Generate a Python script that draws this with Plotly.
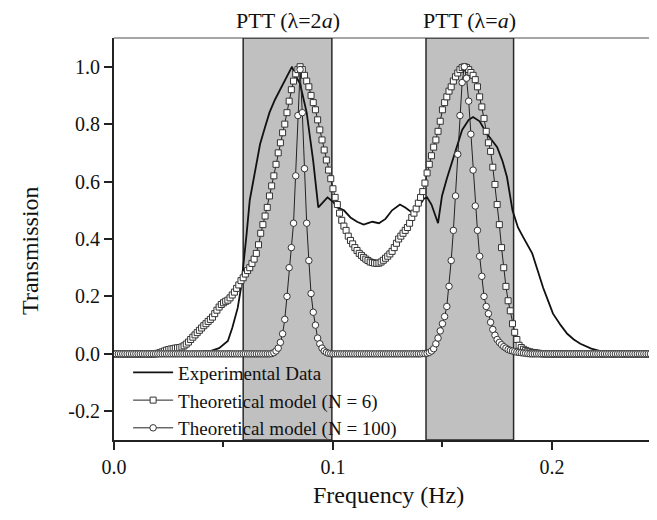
import numpy as np
import plotly.graph_objects as go

# ---- data -------------------------------------------------------------
# sampling grid of the theoretical models (Hz)
freq = np.round(np.arange(0, 0.2505, 0.001), 3)

n6 = [0.0] * 20 + [
    0.002, 0.004, 0.007, 0.010, 0.013, 0.015, 0.017, 0.018, 0.020, 0.021,
    0.022, 0.024, 0.028, 0.034, 0.041, 0.050, 0.058, 0.066, 0.074, 0.082,
    0.090, 0.098, 0.105, 0.113, 0.120, 0.128, 0.140, 0.152, 0.163, 0.172,
    0.178, 0.183, 0.187, 0.195, 0.205, 0.215, 0.228, 0.240, 0.255, 0.265,
    0.278, 0.290, 0.300, 0.315, 0.330, 0.350, 0.380, 0.420, 0.450, 0.480,
    0.510, 0.550, 0.585, 0.620, 0.660, 0.700, 0.735, 0.770, 0.800, 0.840,
    0.880, 0.920, 0.950, 0.975, 0.990, 1.000, 0.990, 0.970, 0.950, 0.930,
    0.900, 0.875, 0.850, 0.815, 0.780, 0.745, 0.710, 0.675, 0.640, 0.610,
    0.575, 0.545, 0.520, 0.490, 0.465, 0.445, 0.430, 0.410, 0.395, 0.383,
    0.370, 0.360, 0.350, 0.343, 0.336, 0.330, 0.325, 0.320, 0.318, 0.316,
    0.315, 0.316, 0.320, 0.326, 0.333, 0.340, 0.348, 0.357, 0.370, 0.385,
    0.400, 0.410, 0.420, 0.430, 0.440, 0.455, 0.475, 0.490, 0.505, 0.525,
    0.545, 0.565, 0.595, 0.630, 0.660, 0.690, 0.720, 0.745, 0.775, 0.810,
    0.850, 0.875, 0.895, 0.915, 0.930, 0.950, 0.965, 0.978, 0.990, 0.997,
    1.000, 0.997, 0.990, 0.980, 0.970, 0.955, 0.930, 0.895, 0.860, 0.820,
    0.775, 0.735, 0.705, 0.650, 0.590, 0.520, 0.450, 0.370, 0.300, 0.235,
    0.185, 0.150, 0.105, 0.075, 0.050, 0.030, 0.022, 0.016, 0.012, 0.009,
    0.007, 0.005, 0.004, 0.003, 0.002, 0.001, 0.0, 0.0, 0.0, 0.0,
] + [0.0] * 51

n100 = [0.0] * 72 + [
    0.001, 0.004, 0.010, 0.020, 0.040, 0.070, 0.120, 0.200,
    0.300, 0.370, 0.455, 0.620, 0.830, 0.990, 0.840, 0.645, 0.455, 0.325,
    0.210, 0.145, 0.100, 0.055, 0.035, 0.020, 0.010, 0.005, 0.002, 0.001,
] + [0.0] * 41 + [
    0.001, 0.001, 0.002, 0.005, 0.010, 0.018, 0.035, 0.055, 0.080,
    0.105, 0.130, 0.165, 0.235, 0.325, 0.430, 0.550, 0.695, 0.830, 0.945,
    1.000, 0.960, 0.880, 0.765, 0.640, 0.515, 0.430, 0.340, 0.270, 0.200,
    0.165, 0.140, 0.110, 0.085, 0.065, 0.050, 0.040, 0.032, 0.025, 0.020,
    0.015, 0.012, 0.010, 0.008, 0.006, 0.005, 0.004, 0.003, 0.002, 0.001,
] + [0.0] * 61

exp_f = [0.0, 0.020, 0.030, 0.038, 0.044, 0.048, 0.052, 0.054, 0.0565, 0.058,
         0.0589, 0.0606, 0.062, 0.0644, 0.0667, 0.069, 0.071, 0.0735, 0.0758,
         0.079, 0.0813, 0.0825, 0.085, 0.088, 0.091, 0.0933, 0.0955, 0.0975,
         0.100, 0.102, 0.105, 0.108, 0.111, 0.114, 0.116, 0.118, 0.121, 0.124,
         0.127, 0.1306, 0.133, 0.1365, 0.139, 0.1415, 0.143, 0.145, 0.148,
         0.1498, 0.152, 0.155, 0.159, 0.162, 0.164, 0.167, 0.170, 0.1725,
         0.175, 0.1775, 0.1795, 0.182, 0.1845, 0.187, 0.1895, 0.191, 0.1935,
         0.196, 0.1985, 0.2005, 0.204, 0.207, 0.210, 0.213, 0.218, 0.223,
         0.230, 0.240, 0.250]
exp_t = [0.0, 0.0, 0.003, 0.006, 0.010, 0.020, 0.045, 0.090, 0.160, 0.230,
         0.290, 0.420, 0.535, 0.640, 0.730, 0.790, 0.840, 0.885, 0.920,
         0.965, 1.000, 0.975, 0.940, 0.840, 0.670, 0.510, 0.530, 0.545,
         0.530, 0.510, 0.500, 0.475, 0.460, 0.450, 0.455, 0.460, 0.455, 0.470,
         0.500, 0.520, 0.510, 0.490, 0.510, 0.540, 0.545, 0.520, 0.455,
         0.550, 0.610, 0.685, 0.780, 0.815, 0.825, 0.810, 0.770, 0.745,
         0.720, 0.670, 0.615, 0.500, 0.440, 0.405, 0.370, 0.350, 0.290,
         0.230, 0.180, 0.140, 0.100, 0.070, 0.050, 0.035, 0.018, 0.008,
         0.003, 0.0, 0.0]

bands = [(0.059, 0.0995, "PTT (λ=2<i>a</i>)"), (0.1425, 0.1825, "PTT (λ=<i>a</i>)")]

x_ticks = [0.0, 0.1, 0.2]
x_ticklabels = ["0.0", "0.1", "0.2"]
y_ticks = [-0.2, 0.0, 0.2, 0.4, 0.6, 0.8, 1.0]
y_ticklabels = ["-0.2", "0.0", "0.2", "0.4", "0.6", "0.8", "1.0"]
x_range = [0, 0.248]
y_range = [-0.3, 1.1]

# ---- figure -----------------------------------------------------------
FONT = "Liberation Serif"
fig = go.Figure()

fig.add_trace(go.Scatter(
    x=exp_f, y=exp_t, mode="lines", name="Experimental Data",
    line=dict(color="#111111", width=1.8)))
fig.add_trace(go.Scatter(
    x=freq, y=n6, mode="lines+markers", name="Theoretical model (N = 6)",
    line=dict(color="#222222", width=1),
    marker=dict(symbol="square", size=6, color="white",
                line=dict(color="#333333", width=1))))
fig.add_trace(go.Scatter(
    x=freq, y=n100, mode="lines+markers", name="Theoretical model (N = 100)",
    line=dict(color="#222222", width=1),
    marker=dict(symbol="circle", size=6.5, color="white",
                line=dict(color="#333333", width=1))))

shapes = []
annotations = []
for x0, x1, label in bands:
    shapes.append(dict(type="rect", xref="x", yref="y", x0=x0, x1=x1,
                       y0=y_range[0], y1=y_range[1], layer="below",
                       fillcolor="#c0c0c0", line=dict(color="#2a2a2a", width=1.5)))
    annotations.append(dict(x=(x0 + x1) / 2, y=1, xref="x", yref="paper",
                            yanchor="bottom", yshift=3, showarrow=False,
                            text=label, font=dict(family=FONT, size=22, color="#111")))
shapes.append(dict(type="line", xref="paper", yref="paper", x0=0, x1=1, y0=1, y1=1,
                   line=dict(color="#888888", width=1.5), layer="below"))

# axis titles
annotations.append(dict(x=0.505, y=-0.137, xref="paper", yref="paper",
                        xanchor="center", yanchor="middle", showarrow=False,
                        text="Frequency (Hz)", font=dict(family=FONT, size=24, color="#111")))
annotations.append(dict(x=-0.155, y=0.47, xref="paper", yref="paper",
                        xanchor="center", yanchor="middle", showarrow=False, textangle=-90,
                        text="Transmission", font=dict(family=FONT, size=24, color="#111")))

# the page body adds an 8 px offset, so the figure is sized to fit the window
fig.update_layout(
    width=649, height=512,
    margin=dict(l=106, r=0, t=30, b=80, autoexpand=False),
    paper_bgcolor="white", plot_bgcolor="white",
    font=dict(family=FONT, size=20, color="#111"),
    shapes=shapes, annotations=annotations,
    showlegend=True,
    legend=dict(x=0.026, y=0.215, xanchor="left", yanchor="top",
                bgcolor="rgba(0,0,0,0)", borderwidth=0,
                font=dict(family=FONT, size=19, color="#111"),
                tracegroupgap=0, itemwidth=40),
)
fig.update_xaxes(
    range=x_range, showgrid=False, zeroline=False, automargin=False,
    showline=True, linecolor="#222", linewidth=2,
    tickmode="array", tickvals=x_ticks, ticktext=x_ticklabels,
    ticks="outside", ticklen=8, tickwidth=2, tickcolor="#222",
    minor=dict(tickmode="array", tickvals=[0.05, 0.15], ticks="outside",
               ticklen=5, tickwidth=2, tickcolor="#222"),
    tickfont=dict(family=FONT, size=20),
)
fig.update_yaxes(
    range=y_range, showgrid=False, zeroline=False, automargin=False,
    showline=True, linecolor="#222", linewidth=2,
    tickmode="array", tickvals=y_ticks, ticktext=y_ticklabels,
    ticks="outside", ticklen=8, tickwidth=2, tickcolor="#222",
    tickfont=dict(family=FONT, size=20),
)

fig.write_html("out.html")
